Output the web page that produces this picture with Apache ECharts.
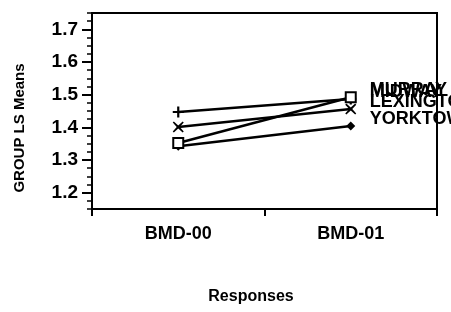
<!DOCTYPE html>
<html>
<head>
<meta charset="utf-8">
<script src="https://cdn.jsdelivr.net/npm/echarts@6/dist/echarts.min.js"></script>
<style>
  html, body { margin: 0; padding: 0; background: #fff; }
  #main { width: 451px; height: 312px; }
</style>
</head>
<body>
<div id="main"></div>
<script>
// categories and LS means
var categories = ['BMD-00', 'BMD-01']
var murray = [1.352, 1.492]
var midway = [1.447, 1.487]
var lexington = [1.401, 1.456]
var yorktown = [1.342, 1.404]

// tick values
var yMajorTicks = [1.2, 1.3, 1.4, 1.5, 1.6, 1.7]
var yMinorTicks = [1.15, 1.175, 1.2, 1.225, 1.25, 1.275, 1.3, 1.325, 1.35, 1.375, 1.4, 1.425,
  1.45, 1.475, 1.5, 1.525, 1.55, 1.575, 1.6, 1.625, 1.65, 1.675, 1.7, 1.725, 1.75]

var font = 'Liberation Sans, Arial, sans-serif'
var plusPath = 'path://M4,0 L6,0 L6,4 L10,4 L10,6 L6,6 L6,10 L4,10 L4,6 L0,6 L0,4 L4,4 Z'
var crossPath = 'path://M1,0 L5,3.6 L9,0 L10,1 L6.4,5 L10,9 L9,10 L5,6.4 L1,10 L0,9 L3.6,5 L0,1 Z'

var chart = echarts.init(document.getElementById('main'))

function makeSeries(name, data, symbol, size, fill) {
  return {
    name: name,
    type: 'line',
    data: data,
    symbol: symbol,
    symbolSize: size,
    showAllSymbol: true,
    lineStyle: { color: '#000', width: 2.5 },
    itemStyle: { color: fill, borderColor: '#000', borderWidth: symbol === 'rect' ? 2 : 0 },
    endLabel: {
      show: true,
      formatter: name,
      distance: 19,
      offset: [0, -7],
      color: '#000',
      fontFamily: font,
      fontSize: 18,
      fontWeight: 'bold'
    },
    animation: false
  }
}

var option = {
  backgroundColor: '#fff',
  grid: {
    left: 92,
    right: 14,
    top: 13,
    bottom: 103,
    show: true,
    borderColor: '#000',
    borderWidth: 2,
    backgroundColor: 'transparent'
  },
  xAxis: {
    type: 'category',
    data: categories,
    boundaryGap: true,
    axisLine: { lineStyle: { color: '#000', width: 2 } },
    axisTick: { show: true, length: 7, lineStyle: { color: '#000', width: 2 } },
    axisLabel: {
      color: '#000',
      fontFamily: font,
      fontSize: 18,
      fontWeight: 'bold',
      margin: 16
    },
    splitLine: { show: false }
  },
  yAxis: [
    {
      type: 'value',
      min: 1.15,
      max: 1.75,
      axisLine: { show: true, lineStyle: { color: '#000', width: 2 } },
      axisTick: { show: true, length: 10, customValues: yMajorTicks, lineStyle: { color: '#000', width: 2 } },
      axisLabel: {
        customValues: yMajorTicks,
        color: '#000',
        fontFamily: font,
        fontSize: 19,
        fontWeight: 'bold',
        margin: 14,
        formatter: function (v) { return v.toFixed(1) }
      },
      splitLine: { show: false }
    },
    {
      type: 'value',
      min: 1.15,
      max: 1.75,
      position: 'left',
      offset: 0,
      axisLine: { show: false },
      axisTick: { show: true, length: 5, customValues: yMinorTicks, lineStyle: { color: '#000', width: 1.5 } },
      axisLabel: { show: false },
      splitLine: { show: false }
    }
  ],
  graphic: [
    {
      type: 'text',
      rotation: Math.PI / 2,
      x: 20,
      y: 128,
      style: {
        text: 'GROUP LS Means',
        fill: '#000',
        font: 'bold 15px ' + font,
        align: 'center',
        verticalAlign: 'middle'
      }
    },
    {
      type: 'text',
      x: 251,
      y: 297,
      style: {
        text: 'Responses',
        fill: '#000',
        font: 'bold 16px ' + font,
        align: 'center',
        verticalAlign: 'middle'
      }
    }
  ],
  series: [
    makeSeries('YORKTOWN', yorktown, 'diamond', 9, '#000'),
    makeSeries('LEXINGTON', lexington, crossPath, 11, '#000'),
    makeSeries('MIDWAY', midway, plusPath, 11, '#000'),
    makeSeries('MURRAY', murray, 'rect', 10, '#fff')
  ]
}

chart.setOption(option)
</script>
</body>
</html>
